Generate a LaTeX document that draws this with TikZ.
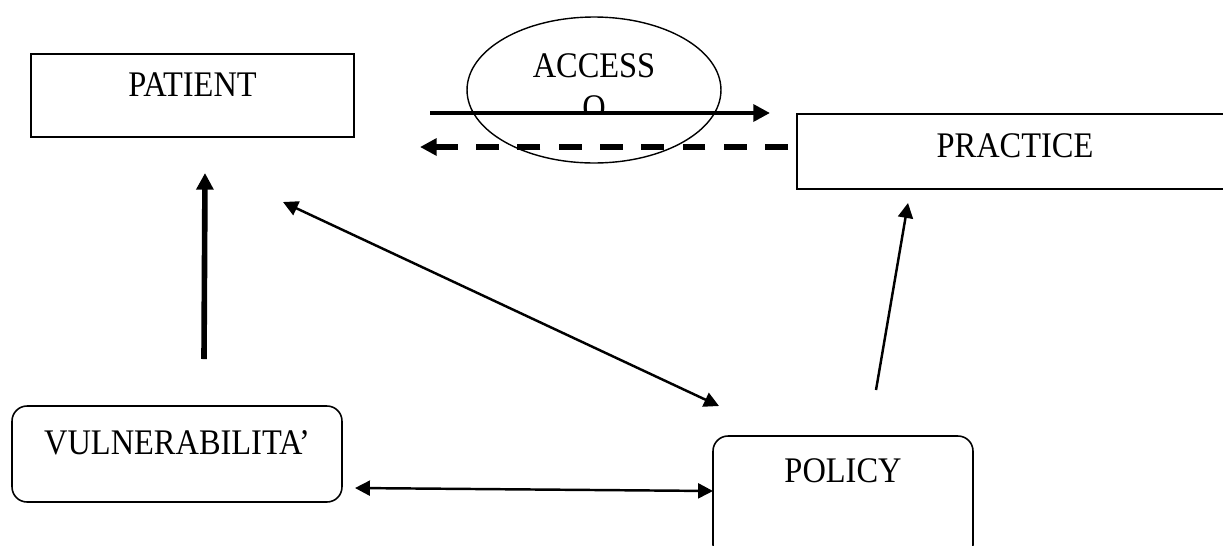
\documentclass[tikz,border=0pt]{standalone}
\usepackage{fontspec}
\setmainfont{Liberation Serif}[FakeStretch=0.9]
\usetikzlibrary{arrows.meta, shapes, positioning}
\tikzset{>={Triangle[length=8.5pt,width=8.5pt]}}
\tikzset{box/.style={draw, line width=0.9pt, inner sep=0pt},
         rbox/.style={box, rounded corners=0.3cm},
         txt/.style={anchor=north, inner sep=0pt, font=\fontsize{20.5}{24}\selectfont},
         thin/.style={line width=1.4pt},
         bold/.style={line width=2.6pt, >={Triangle[length=9.5pt,width=9.5pt]}}}

\begin{document}
\begin{tikzpicture}[x=0.02cm, y=-0.02cm]
          \clip (0,0) rectangle (1223,545);
          \fill[white] (0,0) rectangle (1223,545);
          % boxes
          \node[box, minimum width=6.46cm, minimum height=1.66cm,
            label={[txt, yshift=-0.38cm]north:PATIENT}] (patient) at (192.5,95.5) {};
          \node[box, minimum width=8.72cm, minimum height=1.5cm,
            label={[txt, yshift=-0.4cm]north:PRACTICE}] (practice) at (1015,151.5) {};
          \node[rbox, minimum width=6.6cm, minimum height=1.92cm,
            label={[txt, yshift=-0.5cm]north:VULNERABILITA’}] (vuln) at (177,454) {};
          \node[rbox, minimum width=5.2cm, minimum height=2.48cm,
            label={[txt, yshift=-0.46cm]north:POLICY}] (policy) at (843,498) {};
          \node[ellipse, draw, line width=0.8pt, minimum width=5.08cm, minimum height=2.92cm,
            label={[txt, yshift=-0.74cm]north:ACCESS}] (access) at (594,90) {};
          \begin{scope}
            \clip (500,60) rectangle (700,112);
            \node[txt] (accO) at (594,95) {O};
          \end{scope}
          % free ends
          \coordinate (a1) at (430,113);  \coordinate (a2) at (770,113);
          \coordinate (d1) at (788,147);  \coordinate (d2) at (420,147);
          \coordinate (v1) at (204,359);  \coordinate (v2) at (205,173);
          \coordinate (p1) at (283,202);  \coordinate (p2) at (719,406);
          \coordinate (q1) at (876,390);  \coordinate (q2) at (908,203);
          \coordinate (h1) at (355,488);  \coordinate (h2) at (713,491);
          % connectors
          \draw[bold, ->] (a1) -- (a2);
          \draw[bold, ->, line width=3.2pt, dash pattern=on 13pt off 10.5pt] (d1) -- (d2);
          \draw[bold, ->, line width=3.2pt] (v1) -- (v2);
          \draw[thin, <->] (p1) -- (p2);
          \draw[thin, ->] (q1) -- (q2);
          \draw[thin, <->] (h1) -- (h2);
        \end{tikzpicture}
\end{document}
